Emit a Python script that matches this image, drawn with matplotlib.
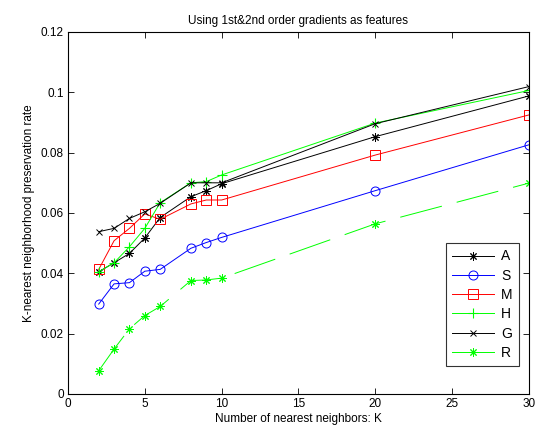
import matplotlib
matplotlib.use("Agg")
import matplotlib.pyplot as plt

plt.rcParams['font.family'] = ['Liberation Sans', 'DejaVu Sans']
plt.rcParams['lines.scale_dashes'] = False

K = [2, 3, 4, 5, 6, 8, 9, 10, 20, 30]
A = [0.0405, 0.0435, 0.0466, 0.0517, 0.0585, 0.0654, 0.0674, 0.0697, 0.0853, 0.0988]
S = [0.0298, 0.0365, 0.0369, 0.0407, 0.0413, 0.0483, 0.0502, 0.0519, 0.0674, 0.0826]
M = [0.0413, 0.0508, 0.0549, 0.0597, 0.0579, 0.0630, 0.0643, 0.0643, 0.0792, 0.0925]
H = [0.0405, 0.0435, 0.0488, 0.0549, 0.0634, 0.0700, 0.0704, 0.0726, 0.0898, 0.1006]
G = [0.0538, 0.0549, 0.0582, 0.0604, 0.0632, 0.0700, 0.0700, 0.0700, 0.0896, 0.1019]
R = [0.0077, 0.0149, 0.0216, 0.0260, 0.0290, 0.0376, 0.0378, 0.0384, 0.0564, 0.0699]

title = "Using 1st&2nd order gradients as features"
xlabel = "Number of nearest neighbors: K"
ylabel = "K-nearest neighborhood preservation rate"

fig = plt.figure(figsize=(5.37, 4.32), dpi=100)
ax = fig.add_axes([0.1266, 0.088, 0.985 - 0.1266, 0.926 - 0.088])

lw = 0.7
ast = (8, 2, 0)
ax.plot(K, A, color='k', marker=ast, ms=6, mew=0.7, lw=lw, label='A')
ax.plot(K, S, color='b', marker='o', ms=6.5, mfc='none', mew=0.7, lw=lw, label='S')
ax.plot(K, M, color='r', marker='s', ms=6.5, mfc='none', mew=0.7, lw=lw, label='M')
ax.plot(K, H, color=(0, 1, 0), marker='+', ms=7, mew=0.8, lw=lw, label='H')
ax.plot(K, G, color='k', marker='x', ms=4, mew=0.7, lw=lw, label='G')
lr, = ax.plot(K, R, color=(0, 1, 0), marker=ast, ms=6, mew=0.7, lw=lw, label='R')
lr.set_dashes((31, 11))

ax.set_xlim(0, 30)
ax.set_ylim(0, 0.12)
ax.set_xticks([0, 5, 10, 15, 20, 25, 30])
ax.set_yticks([0, 0.02, 0.04, 0.06, 0.08, 0.1, 0.12])
ax.set_yticklabels(['0', '0.02', '0.04', '0.06', '0.08', '0.1', '0.12'])
ax.tick_params(direction='in', top=True, right=True, labelsize=8.5, length=4, width=0.6, pad=3)
for s in ax.spines.values():
    s.set_linewidth(0.8)

ax.set_title(title, fontsize=8.5, pad=6)
ax.set_xlabel(xlabel, fontsize=8.5, labelpad=2)
ax.set_ylabel(ylabel, fontsize=8.5, labelpad=4)

leg = ax.legend(loc='lower right', bbox_to_anchor=(0.978, 0.077), borderaxespad=0,
                fontsize=10, handlelength=3.0, frameon=True, fancybox=False, edgecolor='k',
                borderpad=0.45, labelspacing=0.38, handletextpad=0.5)
leg.get_frame().set_linewidth(0.8)
leg.legend_handles[5].set_linestyle('-')

fig.savefig("out.png", dpi=100)
